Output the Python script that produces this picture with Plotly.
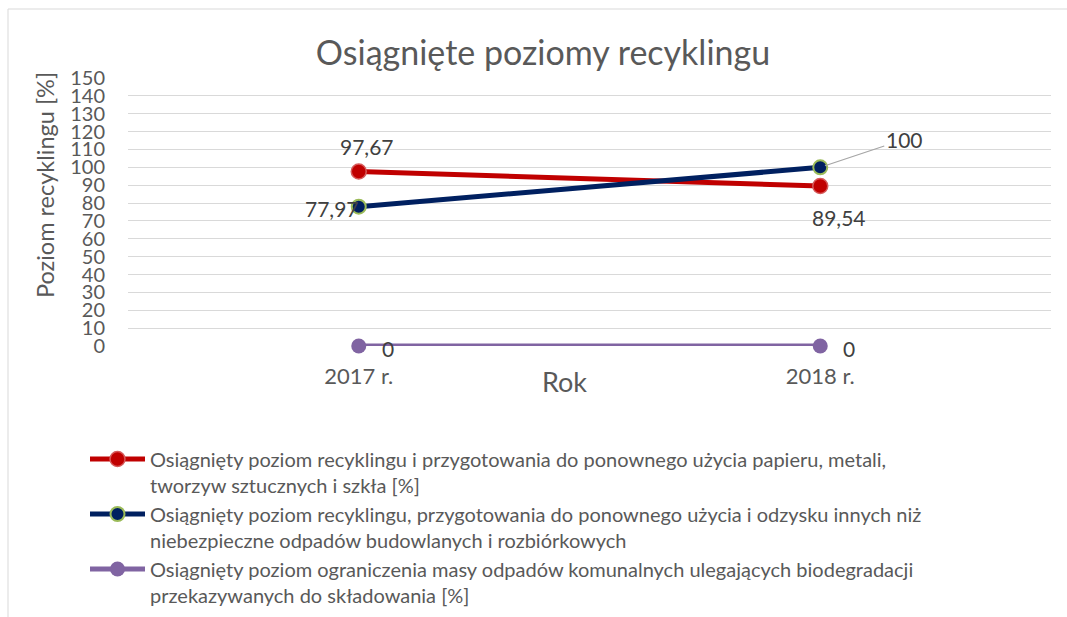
import plotly.graph_objects as go

# ---------------- data ----------------
years = ["2017 r.", "2018 r."]
recykling_surowce = [97.67, 89.54]
recykling_budowlane = [77.97, 100]
ograniczenie_bio = [0, 0]

series_names = [
    "Osiągnięty poziom recyklingu i przygotowania do ponownego użycia papieru, metali,<br>tworzyw sztucznych i szkła [%]",
    "Osiągnięty poziom recyklingu, przygotowania do ponownego użycia i odzysku innych niż<br>niebezpieczne odpadów budowlanych i rozbiórkowych",
    "Osiągnięty poziom ograniczenia masy odpadów komunalnych ulegających biodegradacji<br>przekazywanych do składowania [%]",
]
y_ticks = list(range(0, 151, 10))

title_text = "Osiągnięte poziomy recyklingu"
y_title = "Poziom recyklingu [%]"
x_title = "Rok"

# ---------------- style ----------------
FONT = "Lato, 'Open Sans', sans-serif"
TXT = "#595959"
GRID = "#D9D9D9"
W, H = 1067, 617
PL, PR, PT, PB = 128, 1051, 78, 346          # plot area in pixels
PW, PH = PR - PL, PB - PT

def fmt(v):
    return str(int(v)) if float(v).is_integer() else f"{v:.2f}".replace(".", ",")

fig = go.Figure()

fig.add_trace(go.Scatter(
    x=years, y=recykling_surowce, name=series_names[0], mode="lines+markers",
    line=dict(color="#C00000", width=5),
    marker=dict(size=15, color="#C00000", line=dict(color="#D65A5A", width=1.5)),
    cliponaxis=False,
))
fig.add_trace(go.Scatter(
    x=years, y=recykling_budowlane, name=series_names[1], mode="lines+markers",
    line=dict(color="#002060", width=5),
    marker=dict(size=14, color="#002060", line=dict(color="#9BBB59", width=2)),
    cliponaxis=False,
))
fig.add_trace(go.Scatter(
    x=years, y=ograniczenie_bio, name=series_names[2], mode="lines+markers",
    line=dict(color="#8064A2", width=5),
    marker=dict(size=15, color="#8064A2"),
    cliponaxis=False,
))

annotations = []
lab_font = dict(family=FONT, size=21, color="#404040")
# red series: first above, second below-right
annotations.append(dict(x=years[0], y=recykling_surowce[0], text=fmt(recykling_surowce[0]),
                        showarrow=False, xshift=8, yshift=25, font=lab_font))
annotations.append(dict(x=years[1], y=recykling_surowce[1], text=fmt(recykling_surowce[1]),
                        showarrow=False, xshift=19, yshift=-31, font=lab_font))
# navy series: first left, second with leader line
annotations.append(dict(x=years[0], y=recykling_budowlane[0], text=fmt(recykling_budowlane[0]),
                        showarrow=False, xanchor="right", xshift=2, yshift=-2, font=lab_font))
annotations.append(dict(x=years[1], y=recykling_budowlane[1], text=fmt(recykling_budowlane[1]),
                        showarrow=True, arrowhead=0, arrowwidth=1.3, arrowcolor="#A6A6A6",
                        ax=84, ay=-28, standoff=5, font=lab_font))
# purple series: right of points
for i in range(2):
    annotations.append(dict(x=years[i], y=ograniczenie_bio[i], text=fmt(ograniczenie_bio[i]),
                            showarrow=False, xshift=29, yshift=-2, font=lab_font))
# x axis title
annotations.append(dict(x=0.5, y=0, xref="paper", yref="paper", xshift=-25, yshift=-35,
                        text=x_title, showarrow=False, yanchor="middle",
                        font=dict(family=FONT, size=27, color=TXT)))
# y axis title
annotations.append(dict(x=(45-PL)/PW, y=(PB-185)/PH, xref="paper", yref="paper",
                        text=y_title, textangle=-90, showarrow=False,
                        xanchor="center", yanchor="middle",
                        font=dict(family=FONT, size=23.5, color=TXT)))

fig.update_layout(
    width=W, height=H,
    margin=dict(l=PL, r=W - PR, t=PT, b=H - PB, autoexpand=False),
    paper_bgcolor="white", plot_bgcolor="white",
    font=dict(family=FONT, color=TXT),
    title=dict(text=title_text, x=543/W, xref="container", xanchor="center",
               y=1-53/H, yref="container", yanchor="middle",
               font=dict(family=FONT, size=34, color=TXT)),
    xaxis=dict(type="category", range=[-0.5, 1.5], showgrid=False, zeroline=False,
               showline=False, ticks="", tickfont=dict(family=FONT, size=22, color=TXT),
               ticklabelstandoff=15, automargin=False),
    yaxis=dict(range=[0, 150], tickvals=y_ticks, showgrid=True, gridcolor=GRID, gridwidth=1.4,
               zeroline=False, showline=False, ticks="",
               tickfont=dict(family=FONT, size=20, color=TXT), ticklabelstandoff=22,
               automargin=False),
    showlegend=True,
    legend=dict(x=(85-PL)/PW, xanchor="left", y=(PB-439.5)/PH, yanchor="top",
                orientation="v", itemwidth=55, valign="top",
                font=dict(family=FONT, size=20, color=TXT), bgcolor="rgba(0,0,0,0)"),
    annotations=annotations,
    shapes=[dict(type="rect", xref="paper", yref="paper",
                 x0=(8-PL)/PW, x1=(1075-PL)/PW, y0=(PB-625)/PH, y1=(PB-9)/PH,
                 line=dict(color=GRID, width=1), fillcolor="rgba(0,0,0,0)", layer="below")],
)

fig.write_html("out.html", config={"displayModeBar": False},
               post_script="document.body.style.margin='0px';")
